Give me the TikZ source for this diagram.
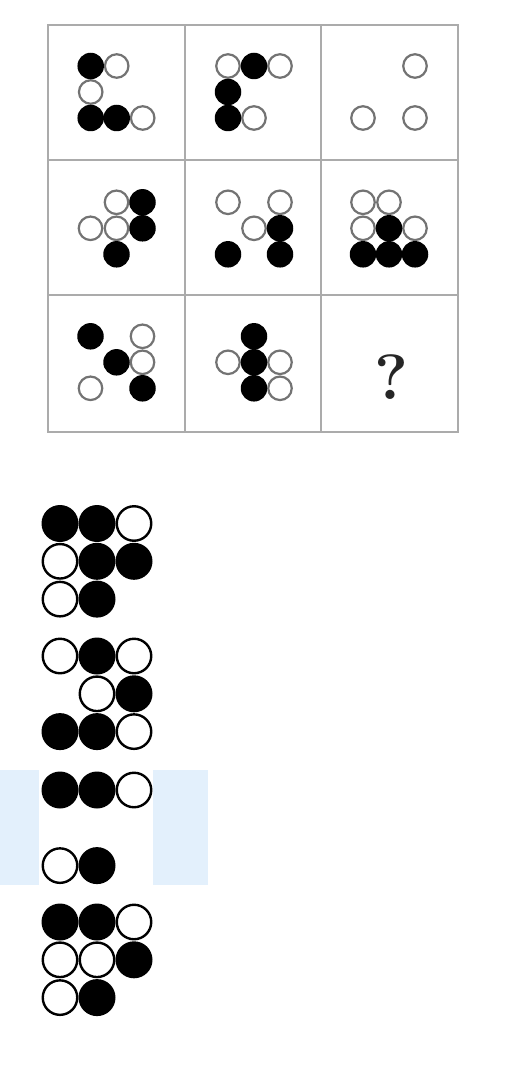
\documentclass[tikz,border=0pt]{standalone}
\definecolor{hl}{HTML}{E3F0FC}
\newcommand\dotcell[4]{%
  \foreach \i/\j/\s in {#4} {\node[\s] (#1\i\j) at ({#2+(\i)*26},{#3+(\j)*26}) {};}}
\newcommand\optcell[4]{%
  \foreach \i/\j/\s in {#4} {\node[\s] (#1\i\j) at ({#2+(\i)*37},{#3+(\j)*37.8}) {};}}
\begin{document}
\begin{tikzpicture}[x=1pt,y=-1pt,
  gb/.style={circle,fill=black,minimum size=26.5pt,inner sep=0pt},
  gw/.style={circle,draw=black!55,line width=2.2pt,fill=white,minimum size=23.5pt,inner sep=0pt},
  ob/.style={circle,fill=black,minimum size=37pt,inner sep=0pt},
  ow/.style={circle,draw=black,line width=2.4pt,fill=white,minimum size=34.5pt,inner sep=0pt},
  gridline/.style={draw=black!33,line width=2pt},
  qmark/.style={inner sep=0pt,text=black!85,font=\fontsize{64}{64}\selectfont\bfseries}]
\fill[white] (0,0) rectangle (504,1067);
\useasboundingbox (0,0) rectangle (504,1067);
% highlight behind option C
\fill[hl] (0,770) rectangle (208,885);
\fill[white] (39,770) rectangle (153,885);
% grid
\draw[gridline] (48,25.5) rectangle (458,432);
\draw[gridline] (185,25.5) -- (185,432);
\draw[gridline] (321,25.5) -- (321,432);
\draw[gridline] (48,160) -- (458,160);
\draw[gridline] (48,295) -- (458,295);
% row 1
\dotcell{a}{116.7}{92}{0/-1/gw,-1/0/gw,1/1/gw,-1/-1/gb,-1/1/gb,0/1/gb}
\dotcell{b}{254}{92}{-1/-1/gw,1/-1/gw,0/1/gw,0/-1/gb,-1/0/gb,-1/1/gb}
\dotcell{c}{389}{92}{1/-1/gw,-1/1/gw,1/1/gw}
% row 2
\dotcell{d}{116.5}{228.3}{0/-1/gw,-1/0/gw,0/0/gw,1/-1/gb,1/0/gb,0/1/gb}
\dotcell{e}{254}{228.3}{-1/-1/gw,1/-1/gw,0/0/gw,1/0/gb,-1/1/gb,1/1/gb}
\dotcell{f}{389}{228.3}{-1/-1/gw,0/-1/gw,-1/0/gw,1/0/gw,0/0/gb,-1/1/gb,0/1/gb,1/1/gb}
% row 3
\dotcell{g}{116.5}{362.3}{1/-1/gw,1/0/gw,-1/1/gw,-1/-1/gb,0/0/gb,1/1/gb}
\dotcell{h}{254}{362.3}{-1/0/gw,1/0/gw,1/1/gw,0/-1/gb,0/0/gb,0/1/gb}
\node[qmark] (q) at (391,377) {?};
% options
\optcell{oa}{60}{523.5}{2/0/ow,0/1/ow,0/2/ow,0/0/ob,1/0/ob,1/1/ob,2/1/ob,1/2/ob}
\optcell{ob}{60}{656}{0/0/ow,2/0/ow,1/1/ow,2/2/ow,1/0/ob,2/1/ob,0/2/ob,1/2/ob}
\optcell{oc}{60}{790}{2/0/ow,0/2/ow,0/0/ob,1/0/ob,1/2/ob}
\optcell{od}{60}{922}{2/0/ow,0/1/ow,1/1/ow,0/2/ow,0/0/ob,1/0/ob,2/1/ob,1/2/ob}
\end{tikzpicture}
\end{document}
